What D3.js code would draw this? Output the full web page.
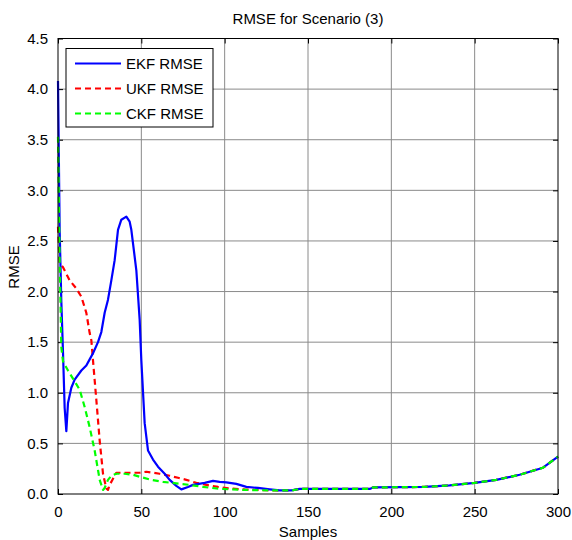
<!DOCTYPE html>
<html>
<head>
<meta charset="utf-8">
<script src="https://cdn.jsdelivr.net/npm/d3@7"></script>
<style>
  body { margin: 0; background: #fff; }
  text { font-family: "Liberation Sans", Arial, sans-serif; font-size: 15px; fill: #000; }
</style>
</head>
<body>
<div id="plot"></div>
<script>
// values (sample index -> RMSE)
var ekfSamples = [0, 1, 2, 3, 4, 5, 6, 8, 10, 14, 17, 19, 21, 24, 26, 28, 30, 32, 34, 36, 38, 41, 43, 44, 47, 49, 50, 52, 54, 57, 60, 64, 67, 71, 74, 78, 81, 88, 93, 97, 101, 107, 113, 120, 127, 133, 140];
var ekfRmse    = [4.08, 2.6, 1.9, 1.4, 0.85, 0.62, 0.9, 1.05, 1.13, 1.22, 1.27, 1.33, 1.39, 1.5, 1.6, 1.79, 1.92, 2.11, 2.31, 2.61, 2.71, 2.74, 2.69, 2.61, 2.21, 1.72, 1.32, 0.7, 0.43, 0.34, 0.27, 0.2, 0.14, 0.08, 0.046, 0.07, 0.09, 0.11, 0.13, 0.12, 0.115, 0.1, 0.07, 0.06, 0.046, 0.035, 0.035];

var ukfSamples = [0, 1, 3, 7, 11, 14, 17, 19, 20, 21, 23, 25, 27, 29, 30, 31, 33, 35, 41, 49, 53, 57, 61, 67, 72, 77, 83, 89, 96, 103, 112, 121, 131, 140];
var ukfRmse    = [2.64, 2.28, 2.24, 2.11, 2.03, 1.95, 1.79, 1.59, 1.52, 1.32, 0.93, 0.53, 0.2, 0.055, 0.04, 0.09, 0.15, 0.21, 0.21, 0.21, 0.22, 0.21, 0.2, 0.18, 0.16, 0.14, 0.11, 0.09, 0.07, 0.055, 0.045, 0.04, 0.035, 0.035];

var ckfSamples = [0, 1, 2, 3, 6, 9, 13, 16, 19, 22, 25, 27, 28, 30, 32, 35, 40, 45, 49, 56, 63, 71, 79, 87, 95, 104, 113, 122, 131, 140];
var ckfRmse    = [3.53, 2.3, 1.45, 1.31, 1.22, 1.14, 1.03, 0.86, 0.66, 0.43, 0.14, 0.04, 0.06, 0.14, 0.18, 0.2, 0.2, 0.19, 0.17, 0.14, 0.12, 0.105, 0.09, 0.07, 0.055, 0.045, 0.04, 0.037, 0.035, 0.035];

// all three filters run together after ~140 samples
var tailSamples = [145, 187, 189, 220, 235, 250, 263, 277, 291, 300];
var tailRmse    = [0.05, 0.05, 0.065, 0.07, 0.085, 0.11, 0.14, 0.19, 0.26, 0.37];

var xTicks = [0, 50, 100, 150, 200, 250, 300];
var yTicks = [0, 0.5, 1, 1.5, 2, 2.5, 3, 3.5, 4, 4.5];
var legendNames = ["EKF RMSE", "UKF RMSE", "CKF RMSE"];

var margin = { top: 38.5, right: 14, bottom: 46, left: 58 },
    width = 572 - margin.left - margin.right,
    height = 540 - margin.top - margin.bottom;

var xScale = d3.scaleLinear().domain([0, 300]).range([0, width]);
var yScale = d3.scaleLinear().domain([0, 4.5]).range([height, 0]);

var svg = d3.select("#plot").append("svg")
    .attr("width", 572)
    .attr("height", 540);

var g = svg.append("g")
    .attr("transform", "translate(" + margin.left + "," + margin.top + ")");

// grid
g.selectAll(".gx").data(xTicks.slice(1, -1)).enter().append("line")
    .attr("x1", function(d) { return xScale(d); })
    .attr("x2", function(d) { return xScale(d); })
    .attr("y1", 0).attr("y2", height)
    .attr("stroke", "#8a8a8a").attr("stroke-width", 1);
g.selectAll(".gy").data(yTicks.slice(1, -1)).enter().append("line")
    .attr("y1", function(d) { return yScale(d); })
    .attr("y2", function(d) { return yScale(d); })
    .attr("x1", 0).attr("x2", width)
    .attr("stroke", "#8a8a8a").attr("stroke-width", 1);

// axes with inward ticks, labels on left / bottom only
g.append("g")
    .attr("transform", "translate(0," + height + ")")
    .call(d3.axisBottom(xScale).tickValues(xTicks).tickSizeInner(-5).tickSizeOuter(0).tickPadding(12))
    .call(function(a) { a.select(".domain").remove(); a.selectAll("text").style("font-size", "15px").style("font-family", null); });
g.append("g")
    .call(d3.axisLeft(yScale).tickValues(yTicks).tickSizeInner(-5).tickSizeOuter(0).tickPadding(10))
    .call(function(a) { a.select(".domain").remove(); a.selectAll("text").style("font-size", "15px").style("font-family", null); });
g.append("g")
    .call(d3.axisTop(xScale).tickValues(xTicks).tickSizeInner(-5).tickSizeOuter(0).tickFormat(""))
    .call(function(a) { a.select(".domain").remove(); });
g.append("g")
    .attr("transform", "translate(" + width + ",0)")
    .call(d3.axisRight(yScale).tickValues(yTicks).tickSizeInner(-5).tickSizeOuter(0).tickFormat(""))
    .call(function(a) { a.select(".domain").remove(); });

// curves
var line = d3.line()
    .x(function(d) { return xScale(d[0]); })
    .y(function(d) { return yScale(d[1]); });

function series(xs, ys) {
    return d3.zip(xs.concat(tailSamples), ys.concat(tailRmse));
}

var curves = [
    { data: series(ukfSamples, ukfRmse), color: "#ff0000", dash: "6,4" },
    { data: series(ekfSamples, ekfRmse), color: "#0000ff", dash: null },
    { data: series(ckfSamples, ckfRmse), color: "#00ff00", dash: "6,4" }
];

g.selectAll(".curve").data(curves).enter().append("path")
    .attr("class", "curve")
    .attr("d", function(d) { return line(d.data); })
    .attr("fill", "none")
    .attr("stroke", function(d) { return d.color; })
    .attr("stroke-width", 2.2)
    .attr("stroke-linejoin", "round")
    .attr("stroke-dasharray", function(d) { return d.dash; });

// box
g.append("rect")
    .attr("width", width).attr("height", height)
    .attr("fill", "none").attr("stroke", "#000").attr("stroke-width", 1);

// legend
var legend = g.append("g").attr("transform", "translate(8,10)");
legend.append("rect")
    .attr("width", 147).attr("height", 78.5)
    .attr("fill", "#fff").attr("stroke", "#000").attr("stroke-width", 1);
var legendStyle = [
    { color: "#0000ff", dash: null },
    { color: "#ff0000", dash: "6,4" },
    { color: "#00ff00", dash: "6,4" }
];
legendNames.forEach(function(name, i) {
    var yy = 15 + i * 25;
    legend.append("line")
        .attr("x1", 9).attr("x2", 55).attr("y1", yy).attr("y2", yy)
        .attr("stroke", legendStyle[i].color).attr("stroke-width", 2.2)
        .attr("stroke-dasharray", legendStyle[i].dash);
    legend.append("text")
        .attr("x", 60).attr("y", yy).attr("dy", "0.36em")
        .text(name);
});

// titles
svg.append("text")
    .attr("x", margin.left + width / 2).attr("y", 24)
    .attr("text-anchor", "middle")
    .text("RMSE for Scenario (3)");
svg.append("text")
    .attr("x", margin.left + width / 2).attr("y", 537)
    .attr("text-anchor", "middle")
    .text("Samples");
svg.append("text")
    .attr("transform", "rotate(-90)")
    .attr("x", -267).attr("y", 18.5)
    .attr("text-anchor", "middle")
    .text("RMSE");
</script>
</body>
</html>
